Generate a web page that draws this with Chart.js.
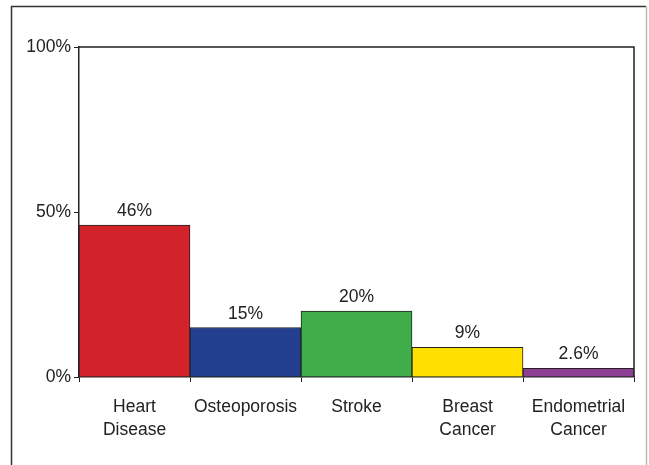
<!DOCTYPE html>
<html>
<head>
<meta charset="utf-8">
<title>Risk reduction</title>
<style>
  html, body { margin: 0; padding: 0; background: #fff; }
  #wrap { width: 649px; height: 465px; position: relative; }
</style>
</head>
<body>
<div id="wrap"><canvas id="myChart" width="649" height="465"></canvas></div>
<script src="https://cdn.jsdelivr.net/npm/chart.js@4.4.1/dist/chart.umd.min.js"></script>
<script>
const categories = [["Heart", "Disease"], "Osteoporosis", "Stroke", ["Breast", "Cancer"], ["Endometrial", "Cancer"]]
const values = [46, 15, 20, 9, 2.6]
const valueLabels = ["46%", "15%", "20%", "9%", "2.6%"]
const barColors = ["#d2232a", "#233f8f", "#3fae49", "#ffe000", "#8c3f93"]
const yTicks = [0, 50, 100]

const FONT = "'Liberation Sans', Arial, Helvetica, sans-serif"

// outer frame + top/right border of the plot + value labels
const decor = {
  id: 'decor',
  afterDraw(chart) {
    const ctx = chart.ctx
    const a = chart.chartArea
    ctx.save()
    ctx.lineWidth = 1.5
    ctx.strokeStyle = '#333'
    ctx.beginPath()
    ctx.moveTo(11.5, 465)
    ctx.lineTo(11.5, 6.5)
    ctx.lineTo(646, 6.5)
    ctx.stroke()
    ctx.strokeStyle = '#bbb'
    ctx.beginPath()
    ctx.moveTo(646.5, 6.5)
    ctx.lineTo(646.5, 465)
    ctx.stroke()

    ctx.strokeStyle = '#222'
    ctx.lineWidth = 1.5
    ctx.beginPath()
    ctx.moveTo(a.left, a.top)
    ctx.lineTo(a.right, a.top)
    ctx.lineTo(a.right, a.bottom)
    ctx.stroke()

    const meta = chart.getDatasetMeta(0)
    ctx.fillStyle = '#222'
    ctx.font = '17.5px ' + FONT
    ctx.textAlign = 'center'
    ctx.textBaseline = 'alphabetic'
    meta.data.forEach((bar, i) => {
      ctx.fillText(valueLabels[i], bar.x, bar.y - 9)
    })
    ctx.restore()
  }
}

new Chart(document.getElementById('myChart'), {
  type: 'bar',
  data: {
    labels: categories,
    datasets: [{
      data: values,
      backgroundColor: barColors,
      borderColor: '#222',
      borderWidth: 1,
      barPercentage: 1,
      categoryPercentage: 1
    }]
  },
  options: {
    responsive: false,
    animation: false,
    layout: { padding: { left: 0, top: 47, right: 15, bottom: 0 } },
    plugins: { legend: { display: false }, tooltip: { enabled: false } },
    scales: {
      x: {
        offset: true,
        afterFit(scale) { scale.height = 88 },
        grid: { offset: true, drawOnChartArea: false, tickLength: 5, color: '#222', lineWidth: 1 },
        border: { color: '#222', width: 1.5 },
        ticks: { color: '#222', font: { size: 17.5, family: FONT, lineHeight: 1.3 }, padding: 14, maxRotation: 0, autoSkip: false }
      },
      y: {
        min: 0,
        max: 100,
        afterFit(scale) { scale.width = 79 },
        afterBuildTicks(scale) { scale.ticks = yTicks.map(v => ({ value: v })) },
        grid: { drawOnChartArea: false, tickLength: 5, color: '#222', lineWidth: 1 },
        border: { color: '#222', width: 1.5 },
        ticks: { color: '#222', font: { size: 17.5, family: FONT }, padding: 3, callback: v => v + '%' }
      }
    }
  },
  plugins: [decor]
})
</script>
</body>
</html>
